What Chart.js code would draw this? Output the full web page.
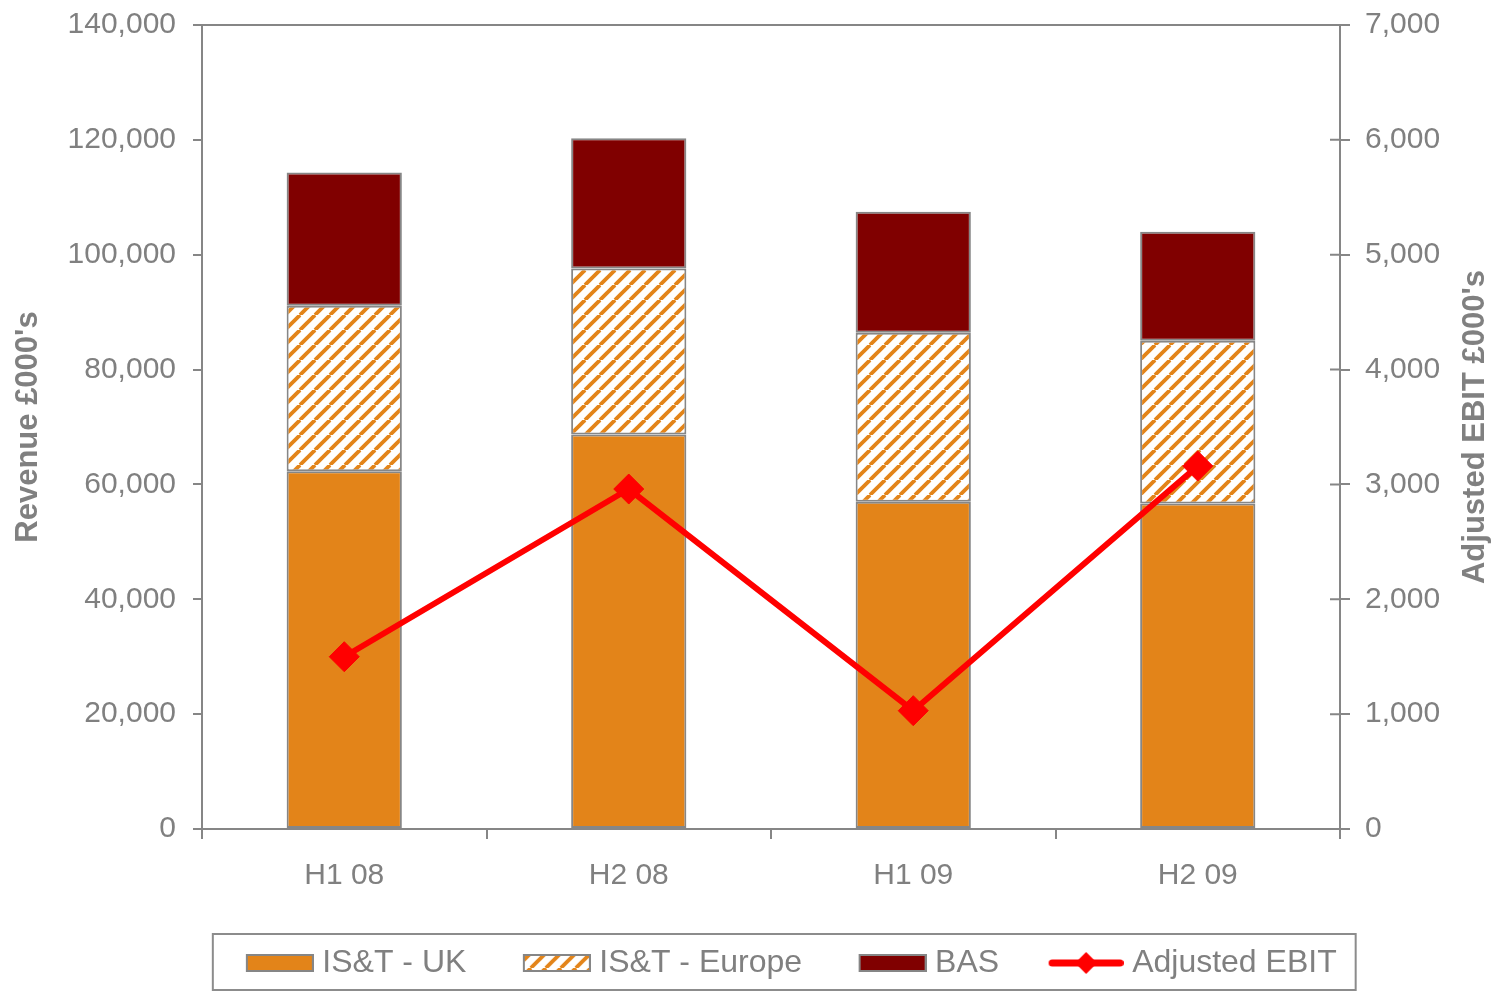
<!DOCTYPE html>
<html>
<head>
<meta charset="utf-8">
<title>Revenue and Adjusted EBIT</title>
<script src="https://cdn.jsdelivr.net/npm/chart.js"></script>
<style>
  html, body { margin: 0; padding: 0; background: #fff; }
  #wrap { width: 1496px; height: 992px; }
</style>
</head>
<body>
<div id="wrap"><canvas id="chart"></canvas></div>
<script>
const periods = ["H1 08", "H2 08", "H1 09", "H2 09"];
const revenueUK = [62300, 68700, 57000, 56700];
const revenueEurope = [28800, 28900, 29400, 28300];
const revenueBAS = [23200, 22700, 21100, 19000];
const adjustedEbit = [1500, 2960, 1030, 3160];

const ORANGE = "#E38419";
const MAROON = "#800000";
const RED = "#FF0000";
const GREY = "#868686";
const TEXT = "#808080";
const FONT = "'Liberation Sans', Arial, sans-serif";

Chart.defaults.font.family = FONT;
Chart.defaults.color = TEXT;

// diagonal orange stripes on white for the Europe segment
function hatch() {
	const size = 15;
	const c = document.createElement("canvas");
	c.width = size;
	c.height = size;
	const g = c.getContext("2d");
	g.fillStyle = "#fff";
	g.fillRect(0, 0, size, size);
	g.strokeStyle = ORANGE;
	g.lineWidth = 3.8;
	for (const o of [-size, 0, size]) {
		g.beginPath();
		g.moveTo(o, size);
		g.lineTo(o + size, 0);
		g.stroke();
	}
	return g.createPattern(c, "repeat");
}
const europeFill = hatch();

// legend symbols are small canvases; the swatch sits at the right of the box
const SWATCH_W = 105;
function barSymbol(fill) {
	const c = document.createElement("canvas");
	c.width = SWATCH_W + 15;
	c.height = 20;
	const g = c.getContext("2d");
	g.fillStyle = fill;
	g.fillRect(52, 1, 68, 18);
	g.strokeStyle = GREY;
	g.lineWidth = 2;
	g.strokeRect(53, 2, 66, 16);
	return c;
}
function lineSymbol() {
	const c = document.createElement("canvas");
	c.width = SWATCH_W + 15;
	c.height = 26;
	const g = c.getContext("2d");
	g.strokeStyle = RED;
	g.fillStyle = RED;
	g.lineWidth = 7;
	g.lineCap = "round";
	g.beginPath();
	g.moveTo(48.5, 13);
	g.lineTo(116.5, 13);
	g.stroke();
	g.beginPath();
	g.moveTo(82.5 - 11, 13);
	g.lineTo(82.5, 2);
	g.lineTo(82.5 + 11, 13);
	g.lineTo(82.5, 24);
	g.closePath();
	g.fill();
	return c;
}

const datasets = [
	{
		label: "IS&T - UK",
		data: revenueUK,
		backgroundColor: ORANGE,
		symbol: barSymbol(ORANGE),
	},
	{
		label: "IS&T - Europe",
		data: revenueEurope,
		backgroundColor: europeFill,
		symbol: barSymbol(europeFill),
	},
	{
		label: "BAS",
		data: revenueBAS,
		backgroundColor: MAROON,
		symbol: barSymbol(MAROON),
	},
].map((ds) => ({
	...ds,
	type: "bar",
	yAxisID: "y",
	borderColor: GREY,
	borderWidth: 2,
	borderSkipped: false,
	barPercentage: 0.405,
	categoryPercentage: 1,
	order: 1,
}));

datasets.push({
	type: "line",
	label: "Adjusted EBIT",
	data: adjustedEbit,
	yAxisID: "y1",
	borderColor: RED,
	borderWidth: 6,
	pointStyle: "rectRot",
	pointRadius: 15,
	pointBackgroundColor: RED,
	pointBorderColor: RED,
	pointBorderWidth: 1,
	tension: 0,
	order: 0,
	symbol: lineSymbol(),
});

const ebitTitle = "Adjusted EBIT £000's";

// top edge of the plot box, inner half of the right ticks, the right axis
// title (reads bottom to top) and the legend frame
const frame = {
	id: "frame",
	afterLayout(chart) {
		// nudge the legend row to the right
		chart.legend.left += 21;
		chart.legend.right += 21;
	},
	afterDraw(chart) {
		const { ctx, chartArea: a, legend } = chart;
		const y1 = chart.scales.y1;
		ctx.save();
		ctx.strokeStyle = GREY;
		ctx.lineWidth = 2;
		ctx.beginPath();
		ctx.moveTo(a.left, a.top);
		ctx.lineTo(a.right, a.top);
		y1.ticks.forEach((t) => {
			const py = y1.getPixelForValue(t.value);
			ctx.moveTo(a.right - 10, py);
			ctx.lineTo(a.right, py);
		});
		ctx.stroke();

		ctx.save();
		ctx.translate(y1.right - 21, (a.top + a.bottom) / 2);
		ctx.rotate(-Math.PI / 2);
		ctx.fillStyle = TEXT;
		ctx.font = "bold 31px " + FONT;
		ctx.textAlign = "center";
		ctx.textBaseline = "middle";
		ctx.fillText(ebitTitle, 0, 0);
		ctx.restore();

		const boxes = legend.legendHitBoxes;
		const first = boxes[0];
		const last = boxes[boxes.length - 1];
		const left = first.left + SWATCH_W + 7.5 - 68 - 33;
		const right = last.left + last.width + 19;
		const mid = first.top + first.height / 2;
		ctx.strokeStyle = "#8c8c8c";
		ctx.strokeRect(left, mid - 29, right - left, 56);
		ctx.restore();
	},
};

const config = {
	data: {
		labels: periods,
		datasets,
	},
	options: {
		responsive: true,
		maintainAspectRatio: false,
		animation: false,
		layout: {
			padding: { top: 25, bottom: 3, left: 0, right: 0 },
		},
		plugins: {
			tooltip: { enabled: false },
			legend: {
				display: true,
				position: "bottom",
				labels: {
					usePointStyle: true,
					pointStyleWidth: SWATCH_W,
					padding: 12,
					color: TEXT,
					font: { size: 32 },
					generateLabels: (chart) =>
						chart.data.datasets.map((ds, i) => ({
							text: ds.label,
							datasetIndex: i,
							pointStyle: ds.symbol,
							fontColor: TEXT,
							fillStyle: "transparent",
							strokeStyle: "transparent",
							lineWidth: 0,
							hidden: false,
						})),
				},
			},
		},
		scales: {
			x: {
				stacked: true,
				offset: true,
				grid: {
					offset: true,
					drawOnChartArea: false,
					tickLength: 10,
					color: GREY,
					lineWidth: 2,
				},
				border: { color: GREY, width: 2 },
				ticks: { font: { size: 30 }, padding: 19, color: TEXT },
				afterFit: (s) => {
					s.height = 106;
				},
			},
			y: {
				position: "left",
				stacked: true,
				min: 0,
				max: 140000,
				grid: {
					drawOnChartArea: false,
					tickLength: 9,
					color: GREY,
					lineWidth: 2,
				},
				border: { color: GREY, width: 2 },
				ticks: {
					stepSize: 20000,
					padding: 17,
					color: TEXT,
					font: { size: 30 },
					callback: (v) => v.toLocaleString("en-US"),
				},
				title: {
					display: true,
					text: "Revenue £000's",
					color: TEXT,
					font: { size: 31, weight: "bold" },
					padding: { top: 10, bottom: 0 },
				},
				afterFit: (s) => {
					s.width = 202;
					s.paddingTop = 0;
					s.paddingBottom = 0;
				},
			},
			y1: {
				position: "right",
				min: 0,
				max: 7000,
				grid: {
					drawOnChartArea: false,
					tickLength: 10,
					color: GREY,
					lineWidth: 2,
				},
				border: { color: GREY, width: 2 },
				ticks: {
					stepSize: 1000,
					padding: 15,
					color: TEXT,
					font: { size: 30 },
					callback: (v) => v.toLocaleString("en-US"),
				},
				afterFit: (s) => {
					s.width = 156;
					s.paddingTop = 0;
					s.paddingBottom = 0;
				},
			},
		},
	},
	plugins: [frame],
};

new Chart(document.querySelector("#chart"), config);
</script>
</body>
</html>
